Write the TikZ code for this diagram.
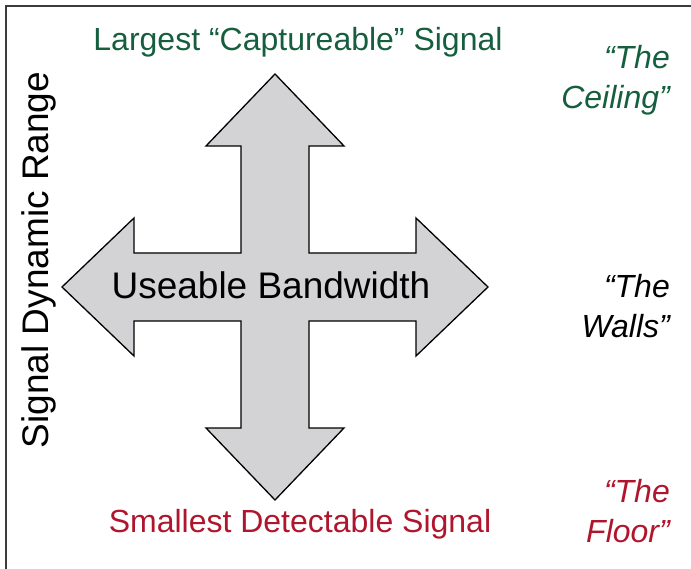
\documentclass[tikz,border=0pt]{standalone}
\usepackage{fontspec}
\setmainfont{Liberation Sans}
\usetikzlibrary{positioning, calc}
\definecolor{ceilgreen}{RGB}{22,95,62}
\definecolor{floorred}{RGB}{175,22,45}
\definecolor{crossfill}{RGB}{211,211,213}
\definecolor{framegray}{RGB}{60,60,60}
\tikzset{
  bound/.style={font=\fontsize{32}{38}\selectfont, anchor=base, inner sep=0pt},
  nick/.style={font=\fontsize{32}{40}\selectfont\itshape, align=right,
               anchor=base east, inner sep=0pt},
  cross/.style={draw=black, line width=1.3pt, fill=crossfill, line join=miter},
}

\begin{document}
\begin{tikzpicture}[x=1pt, y=-1pt]
  \useasboundingbox (0,0) rectangle (691,569);
  % frame, only left and top edges show
  \draw[framegray, line width=2pt] (6,569) -- (6,6) -- (691,6);

  % four way arrow
  \coordinate (c) at (275,287);
  \draw[cross] (c) ++(0,-213) -- ++(69,72) -- ++(-35,0) -- ++(0,107)
    -- ++(107,0) -- ++(0,-35) -- ++(72,69) -- ++(-72,69) -- ++(0,-35)
    -- ++(-107,0) -- ++(0,107) -- ++(35,0) -- ++(-69,72) -- ++(-69,-72)
    -- ++(35,0) -- ++(0,-107) -- ++(-107,0) -- ++(0,35) -- ++(-72,-69)
    -- ++(72,-69) -- ++(0,35) -- ++(107,0) -- ++(0,-107) -- ++(-35,0) -- cycle;
  \node[font=\fontsize{37}{44}\selectfont, anchor=base] (bw) at (271,299)
    {Useable Bandwidth};

  \node[bound, ceilgreen] (top) at (298,51) {Largest “Captureable” Signal};
  \node[bound, floorred] (bottom) at (300,532) {Smallest Detectable Signal};
  \node[bound, rotate=90, font=\fontsize{37}{44}\selectfont] (range) at (48,260)
    {Signal Dynamic Range};

  \node[nick, ceilgreen] (ceiling) at (670,109) {“The\\Ceiling”};
  \node[nick, black] (walls) at (670,338) {“The\\Walls”};
  \node[nick, floorred] (floor) at (670,542) {“The\\Floor”};
\end{tikzpicture}
\end{document}
